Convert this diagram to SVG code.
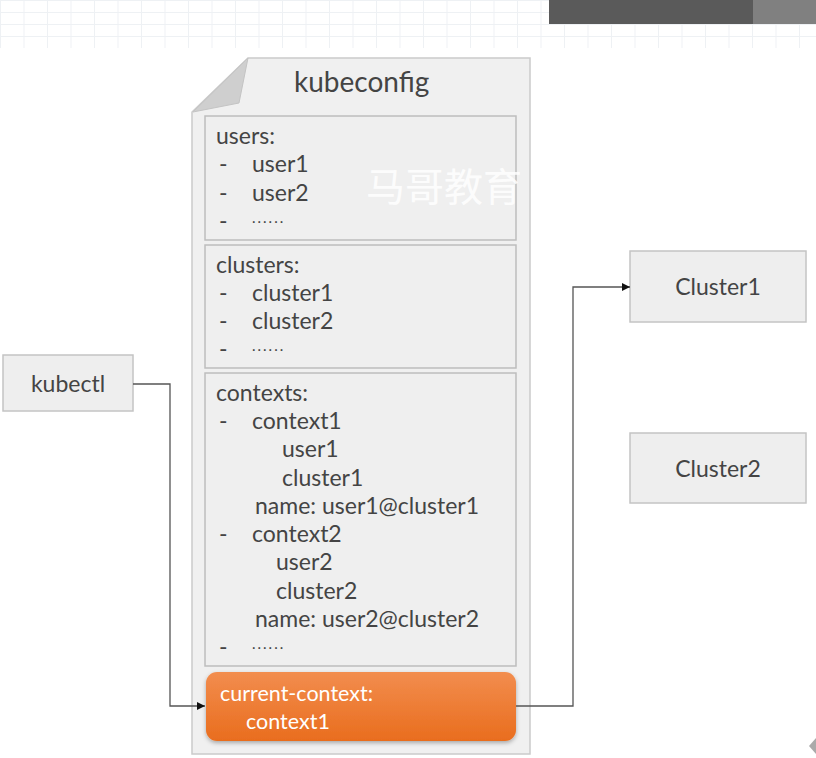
<svg xmlns="http://www.w3.org/2000/svg" width="816" height="758" viewBox="0 0 816 758">
<defs>
<style>
.t{font-family:Lato,"Liberation Sans",sans-serif;fill:#444;font-size:23px}
.d{font-family:Lato,"Liberation Sans",sans-serif;fill:#444;font-size:15px;letter-spacing:2px}
.box{fill:#eeeeee;stroke:#c4c4c4;stroke-width:1.5}
.sec{fill:#efefef;stroke:#bdbdbd;stroke-width:1.5}
.ln{fill:none;stroke:#555;stroke-width:1.3}
.w{font-family:Lato,"Liberation Sans",sans-serif;fill:#fff;font-size:21.5px}
</style>
<marker id="ah" viewBox="0 0 10 10" refX="10" refY="5" markerWidth="8" markerHeight="8" markerUnits="userSpaceOnUse" orient="auto">
<path d="M0,0 L10,5 L0,10 z" fill="#111"/>
</marker>
<linearGradient id="og" x1="0" y1="0" x2="0" y2="1">
<stop offset="0" stop-color="#f28d4e"/>
<stop offset="1" stop-color="#e96d1e"/>
</linearGradient>
<pattern id="grid" width="23.5" height="12" patternUnits="userSpaceOnUse">
<path d="M0.5,0 V12 M0,0.5 H23.5" fill="none" stroke="#eef1f4" stroke-width="1"/>
</pattern>
<filter id="sh" x="-5%" y="-10%" width="110%" height="130%">
<feDropShadow dx="0" dy="2" stdDeviation="2" flood-color="#000" flood-opacity="0.3"/>
</filter>
</defs>
<rect width="816" height="758" fill="#fff"/>
<rect x="0" y="0" width="816" height="48" fill="url(#grid)"/>
<rect x="549" y="0" width="204" height="24" fill="#5a5a5a"/>
<rect x="753" y="0" width="63" height="24" fill="#808080"/>
<path d="M816,738 L809,746 L816,754 z" fill="#aaa"/>

<g id="kubeconfig">
<path d="M248,58 H530 V754 H192 V112 z" fill="#f0f0f0" stroke="#cacaca" stroke-width="1.5"/>
<path d="M248,58 L193,112 L239,103 z" fill="#cfcfcf" stroke="#c4c4c4" stroke-width="1"/>
<text class="t" x="294" y="92" style="font-size:28px">kubeconfig</text>
</g>

<g id="users">
<rect class="sec" x="205" y="116" width="311" height="124"/>
<text class="t" x="216" y="144">users:</text>
<text class="t" x="219" y="172">-</text><text class="t" x="252" y="172">user1</text>
<text class="t" x="219" y="201">-</text><text class="t" x="252" y="201">user2</text>
<text class="t" x="219" y="229">-</text><text class="d" x="252" y="223">......</text>
</g>

<g id="clusters">
<rect class="sec" x="205" y="245" width="311" height="123"/>
<text class="t" x="216" y="273">clusters:</text>
<text class="t" x="219" y="301">-</text><text class="t" x="252" y="301">cluster1</text>
<text class="t" x="219" y="329">-</text><text class="t" x="252" y="329">cluster2</text>
<text class="t" x="219" y="357">-</text><text class="d" x="252" y="351">......</text>
</g>

<g id="contexts">
<rect class="sec" x="205" y="373" width="311" height="293"/>
<text class="t" x="216" y="401">contexts:</text>
<text class="t" x="219" y="429">-</text><text class="t" x="252" y="429">context1</text>
<text class="t" x="282" y="457">user1</text>
<text class="t" x="282" y="486">cluster1</text>
<text class="t" x="255" y="514">name: user1@cluster1</text>
<text class="t" x="219" y="542">-</text><text class="t" x="252" y="542">context2</text>
<text class="t" x="276" y="570">user2</text>
<text class="t" x="276" y="599">cluster2</text>
<text class="t" x="255" y="627">name: user2@cluster2</text>
<text class="t" x="219" y="655">-</text><text class="d" x="252" y="649">......</text>
</g>

<text x="366" y="201" font-family="'Noto Sans CJK SC',sans-serif" font-size="39" fill="#fff" fill-opacity="0.85">马哥教育</text>

<g id="current-context">
<rect x="206" y="672" width="310" height="69" rx="11" fill="url(#og)" filter="url(#sh)"/>
<text class="w" x="220" y="701">current-context:</text>
<text class="w" x="246" y="729">context1</text>
</g>

<g id="kubectl">
<rect class="box" x="3" y="355" width="130" height="56"/>
<text class="t" x="68" y="392" text-anchor="middle">kubectl</text>
</g>

<g id="cluster1">
<rect class="box" x="630" y="251" width="176" height="71"/>
<text class="t" x="718" y="295" text-anchor="middle">Cluster1</text>
</g>

<g id="cluster2">
<rect class="box" x="630" y="433" width="176" height="70"/>
<text class="t" x="718" y="477" text-anchor="middle">Cluster2</text>
</g>

<g id="connectors">
<path class="ln" d="M133,384 H170 V706 H205" marker-end="url(#ah)"/>
<path class="ln" d="M516,706 H573 V287 H630" marker-end="url(#ah)"/>
</g>
</svg>
